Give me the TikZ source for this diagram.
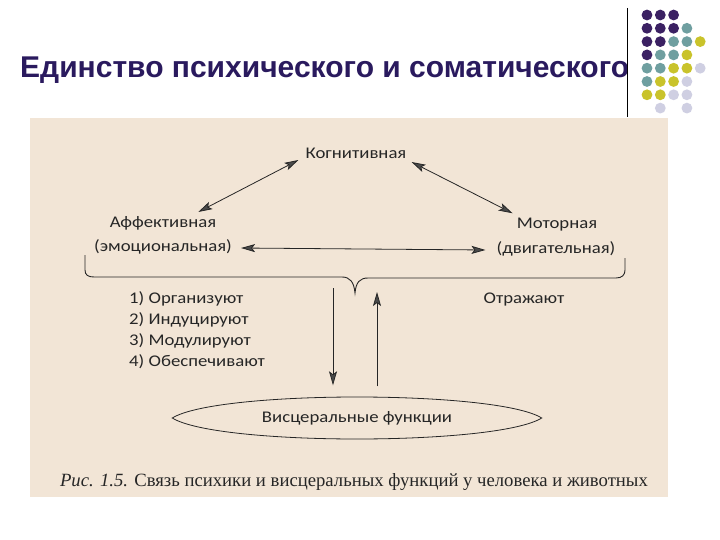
\documentclass[tikz,border=0pt]{standalone}
\usepackage{fontspec}
\setmainfont{Liberation Serif}
\newfontfamily\titlefont{Liberation Sans}
\newfontfamily\diagfont[FakeStretch=1.15]{Carlito}
\usetikzlibrary{arrows.meta,calc,shapes.geometric}
\definecolor{titlecol}{HTML}{2A1A5E}
\definecolor{dkp}{HTML}{3B2163}
\definecolor{tea}{HTML}{6F9FA0}
\definecolor{yel}{HTML}{C9C32B}
\definecolor{lav}{HTML}{CFCFE2}
\definecolor{scanbg}{HTML}{F2E5D6}
\definecolor{ink}{HTML}{262626}
\definecolor{headgray}{HTML}{4A4A4A}
\tikzset{
  tip/.tip={Stealth[length=14pt,width=8pt,inset=3pt,fill=headgray]},
  lbl/.style={font=\diagfont\fontsize{16.3}{19}\selectfont, text=ink, inner sep=1pt},
  dbl/.style={draw=ink, line width=0.8pt, tip-tip},
  sgl/.style={draw=ink, line width=0.8pt, -tip},
  dot/.style={radius=5.4pt}
}
\begin{document}
\begin{tikzpicture}[x=1pt,y=-1pt]
\useasboundingbox (0,0) rectangle (720,540);
\fill[white] (0,0) rectangle (720,540);
% scanned figure background
\fill[scanbg] (30,118) rectangle (668,497);
% title
\node[anchor=base west, font=\titlefont\bfseries\fontsize{30}{34}\selectfont, text=titlecol, inner sep=0] (title) at (20,78) {Единство психического и соматического};
% vertical rule
\draw[black, line width=1pt] (627,8) -- (627,117);
% dots grid
\foreach \c/\r/\col in {0/0/dkp,1/0/dkp,2/0/dkp,
  0/1/dkp,1/1/dkp,2/1/dkp,3/1/tea,
  0/2/dkp,1/2/dkp,2/2/tea,3/2/tea,4/2/yel,
  0/3/dkp,1/3/tea,2/3/tea,3/3/yel,
  0/4/tea,1/4/tea,2/4/yel,3/4/yel,4/4/lav,
  0/5/tea,1/5/yel,2/5/yel,3/5/lav,
  0/6/yel,1/6/yel,2/6/lav,3/6/lav,
  1/7/lav,3/7/lav}
  \fill[\col] ({647+13.3*\c},{15+13.3*\r}) circle[dot];
% nodes
\node[lbl] (kog) at (356,153) {Когнитивная};
\node[lbl] (aff) at (163,223) {Аффективная};
\node[lbl] (emo) at (163,247) {(эмоциональная)};
\node[lbl] (mot) at (557,225) {Моторная};
\node[lbl] (dvig) at (556,249) {(двигательная)};
\node[lbl, anchor=west, align=left, font=\diagfont\fontsize{16.3}{21}\selectfont] (list) at (128,330) {1) Организуют\\2) Индуцируют\\3) Модулируют\\4) Обеспечивают};
\node[lbl] (otr) at (524,300) {Отражают};
\node[ellipse, minimum width=369pt, minimum height=43pt, inner sep=0, lbl] (visc) at (357,418) {Висцеральные функции};
\draw[ink, line width=0.8pt] (visc.west)
  .. controls ($(visc.west)+(45,-28)$) and ($(visc.east)+(-45,-28)$) .. (visc.east)
  .. controls ($(visc.east)+(-45,28)$) and ($(visc.west)+(45,28)$) .. (visc.west) -- cycle;
% connectors
\draw[dbl] ($(kog.west)+(-6,7)$) -- ($(aff.north east)+(-19,-3)$);
\draw[dbl] ($(kog.east)+(4,9)$) -- ($(mot.north west)+(-3,-4)$);
\draw[dbl] ($(emo.east)+(8,1)$) -- ($(dvig.west)+(-10,1)$);
% brace
\draw[ink, line width=0.9pt] (85,255) -- (85,270) .. controls (85,275) and (88,277) .. (94,277)
  -- (342,277) .. controls (350,277) and (354,282) .. (355,293)
  .. controls (356,282) and (360,278) .. (368,278)
  -- (616,278) .. controls (622,278) and (625,275) .. (625,270) -- (625,258);
\coordinate (bdown) at (333,288);
\coordinate (bup) at (377,292);
\draw[sgl] (bdown) -- (bdown |- {$(visc.north)+(0,-11)$});
\draw[sgl] (bup |- {$(visc.north)+(0,-10)$}) -- (bup);
% caption
\node[anchor=base, font=\fontsize{18.7}{22}\selectfont, text=ink, inner sep=0] (cap) at (354,486) {\textit{Рис. 1.5.} Связь психики и висцеральных функций у человека и животных};
\end{tikzpicture}
\end{document}
